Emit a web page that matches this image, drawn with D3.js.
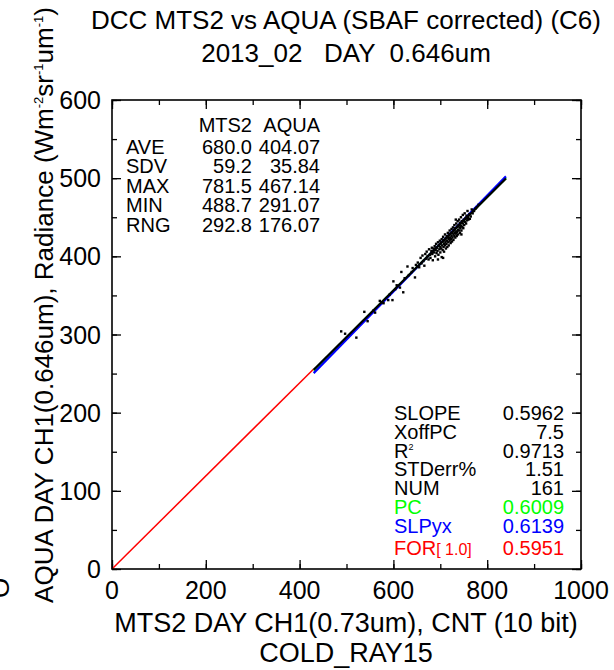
<!DOCTYPE html>
<html>
<head>
<meta charset="utf-8">
<script src="https://cdn.jsdelivr.net/npm/d3@7/dist/d3.min.js"></script>
<style>
  body { margin: 0; background: #fff; }
  svg text { font-family: "Liberation Sans", Arial, Helvetica, sans-serif; fill: #000; }
</style>
</head>
<body>
<div id="chart"></div>
<script>
// axis ticks
var xTicks = [0, 200, 400, 600, 800, 1000];
var yTicks = [0, 100, 200, 300, 400, 500, 600];

// summary table (top left)
var statNames = ["AVE", "SDV", "MAX", "MIN", "RNG"];
var mts2Stats = ["680.0", "59.2", "781.5", "488.7", "292.8"];
var aquaStats = ["404.07", "35.84", "467.14", "291.07", "176.07"];

// regression table (bottom right)
var fitNames = ["SLOPE", "XoffPC", "R2", "STDerr%", "NUM", "PC", "SLPyx", "FOR"];
var fitValues = ["0.5962", "7.5", "0.9713", "1.51", "161", "0.6009", "0.6139", "0.5951"];
var fitColors = ["#000", "#000", "#000", "#000", "#000", "#00ff00", "#0000ff", "#ff0000"];

// fitted lines, passing through the means (680.0, 404.07)
var meanX = 680.0, meanY = 404.07;
var fitRange = [430, 840];
var fitLines = [
  {slope: 0.6009, color: "#00ff00"},
  {slope: 0.6139, color: "#0000ff"},
  {slope: 0.5962, color: "#000000"}
];
var forSlope = 0.5951;

// DCC points (MTS2 count, AQUA radiance)
var points = [
  [488.7, 304], [497, 301], [521, 296], [538, 329], [545, 317], [558, 331], [561, 328], [571, 343],
  [576, 341], [579, 340], [589, 344], [592, 351], [598, 344], [600, 368], [604, 358], [607, 363],
  [614, 360], [617, 380], [621, 354], [624, 372], [630, 387], [633, 376], [639, 380], [641, 385],
  [646, 373], [648, 389], [652, 392], [655, 386], [658, 398], [660, 391], [662, 401], [664, 394],
  [666, 388], [668, 403], [670, 397], [671, 406], [673, 400], [675, 396], [676, 409], [678, 402],
  [679, 398], [681, 407], [682, 411], [683, 403], [684, 395], [686, 410], [687, 405], [688, 413],
  [689, 400], [690, 408], [691, 416], [692, 404], [693, 411], [694, 407], [695, 418], [696, 402],
  [697, 414], [698, 409], [699, 420], [700, 412], [700, 405], [701, 417], [702, 410], [703, 422],
  [703, 399], [704, 414], [705, 408], [706, 419], [706, 425], [707, 412], [708, 416], [708, 406],
  [709, 421], [710, 414], [710, 428], [711, 418], [712, 410], [712, 423], [713, 416], [714, 426],
  [714, 420], [715, 412], [716, 424], [716, 430], [717, 418], [718, 422], [718, 414], [719, 427],
  [720, 420], [720, 433], [721, 424], [722, 417], [722, 429], [723, 422], [724, 435], [724, 426],
  [725, 419], [726, 430], [726, 424], [727, 437], [728, 428], [728, 421], [729, 433], [730, 426],
  [730, 440], [731, 430], [732, 424], [732, 436], [733, 429], [734, 442], [734, 432], [735, 426],
  [736, 438], [736, 431], [737, 445], [738, 434], [738, 428], [739, 440], [740, 433], [740, 447],
  [741, 437], [742, 430], [742, 443], [743, 436], [744, 450], [744, 439], [745, 433], [746, 445],
  [747, 438], [748, 453], [748, 442], [749, 436], [750, 447], [751, 440], [752, 455], [753, 444],
  [754, 449], [755, 442], [756, 452], [757, 446], [758, 458], [759, 449], [760, 447], [762, 454],
  [763, 448], [765, 451], [767, 460], [769, 455], [772, 458], [775, 461], [778, 463], [781.5, 466],
  [706, 398], [733, 447], [745, 428], [695, 396]
];

var width = 614, height = 670;
var margin = {top: 100, right: 33, bottom: 101, left: 112};
var w = width - margin.left - margin.right;   // 469
var h = height - margin.top - margin.bottom;  // 469

var svg = d3.select("#chart").append("svg")
    .attr("width", width)
    .attr("height", height);

var g = svg.append("g")
    .attr("transform", "translate(" + margin.left + "," + margin.top + ")");

var x = d3.scaleLinear().domain([0, 1000]).range([0, w]);
var y = d3.scaleLinear().domain([0, 600]).range([h, 0]);

// ticks, IDL style: inward on all four sides
function drawTicks(axis, tickSize) {
  return function (sel) {
    sel.call(axis.tickSize(tickSize).tickFormat(""));
    sel.select(".domain").remove();
    sel.selectAll("line").attr("stroke", "#000").attr("stroke-width", 1.3);
  };
}
var xMinor = d3.range(0, 1001, 100), yMinor = d3.range(0, 601, 50);
g.append("g").attr("transform", "translate(0," + h + ")").call(drawTicks(d3.axisTop(x).tickValues(xMinor), 5));
g.append("g").attr("transform", "translate(0," + h + ")").call(drawTicks(d3.axisTop(x).tickValues(xTicks), 9));
g.append("g").call(drawTicks(d3.axisBottom(x).tickValues(xMinor), 5));
g.append("g").call(drawTicks(d3.axisBottom(x).tickValues(xTicks), 9));
g.append("g").call(drawTicks(d3.axisRight(y).tickValues(yMinor), 5));
g.append("g").call(drawTicks(d3.axisRight(y).tickValues(yTicks), 9));
g.append("g").attr("transform", "translate(" + w + ",0)").call(drawTicks(d3.axisLeft(y).tickValues(yMinor), 5));
g.append("g").attr("transform", "translate(" + w + ",0)").call(drawTicks(d3.axisLeft(y).tickValues(yTicks), 9));

// tick labels
g.selectAll(".xlab").data(xTicks).enter().append("text")
    .attr("class", "xlab")
    .attr("x", function (d) { return x(d); })
    .attr("y", h + 30)
    .attr("text-anchor", "middle")
    .style("font-size", "25px")
    .text(function (d) { return d; });

g.selectAll(".ylab").data(yTicks).enter().append("text")
    .attr("class", "ylab")
    .attr("x", -11)
    .attr("y", function (d) { return y(d) + 9; })
    .attr("text-anchor", "end")
    .style("font-size", "25px")
    .text(function (d) { return d; });

// FOR line through origin
g.append("line")
    .attr("x1", x(0)).attr("y1", y(0))
    .attr("x2", x(fitRange[0])).attr("y2", y(forSlope * fitRange[0]))
    .attr("stroke", "#ff0000").attr("stroke-width", 1.5);

// regression lines
fitLines.forEach(function (l) {
  var b = meanY - l.slope * meanX;
  g.append("line")
      .attr("x1", x(fitRange[0])).attr("y1", y(l.slope * fitRange[0] + b))
      .attr("x2", x(fitRange[1])).attr("y2", y(l.slope * fitRange[1] + b))
      .attr("stroke", l.color).attr("stroke-width", 2.2);
});

// points
g.selectAll(".pt").data(points).enter().append("rect")
    .attr("class", "pt")
    .attr("x", function (d) { return x(d[0]) - 1.2; })
    .attr("y", function (d) { return y(d[1]) - 1.2; })
    .attr("width", 2.4).attr("height", 2.4)
    .attr("fill", "#000");

// frame
g.append("rect")
    .attr("width", w).attr("height", h)
    .attr("fill", "none").attr("stroke", "#000").attr("stroke-width", 1.6);

// summary table
var tfs = "20px";
g.append("text").attr("x", 140).attr("y", 32).attr("text-anchor", "end").style("font-size", tfs).text("MTS2");
g.append("text").attr("x", 208).attr("y", 32).attr("text-anchor", "end").style("font-size", tfs).text("AQUA");
statNames.forEach(function (s, i) {
  var yy = 53.5 + i * 19.5;
  g.append("text").attr("x", 14).attr("y", yy).style("font-size", tfs).text(s);
  g.append("text").attr("x", 140).attr("y", yy).attr("text-anchor", "end").style("font-size", tfs).text(mts2Stats[i]);
  g.append("text").attr("x", 208).attr("y", yy).attr("text-anchor", "end").style("font-size", tfs).text(aquaStats[i]);
});

// regression table
fitNames.forEach(function (s, i) {
  var yy = (s === "FOR") ? 455 : 320 + i * 18.8;
  var t = g.append("text").attr("x", 282).attr("y", yy).style("font-size", tfs).style("fill", fitColors[i]);
  if (s === "R2") {
    t.text("R");
    t.append("tspan").attr("dy", -8).style("font-size", "9px").text("2");
  } else if (s === "FOR") {
    t.text("FOR");
    t.append("tspan").attr("xml:space", "preserve").style("font-size", "16px").text("[ 1.0]");
  } else {
    t.text(s);
  }
  g.append("text").attr("x", 452).attr("y", yy).attr("text-anchor", "end")
      .style("font-size", tfs).style("fill", fitColors[i]).text(fitValues[i]);
});

// titles
svg.append("text").attr("x", 346).attr("y", 29).attr("text-anchor", "middle")
    .style("font-size", "26px").text("DCC MTS2 vs AQUA (SBAF corrected) (C6)");
svg.append("text").attr("x", 346).attr("y", 62).attr("text-anchor", "middle")
    .style("font-size", "26px").attr("xml:space", "preserve").text("2013_02   DAY  0.646um");

svg.append("text").attr("x", 346).attr("y", 632).attr("text-anchor", "middle")
    .style("font-size", "27px").text("MTS2 DAY CH1(0.73um), CNT (10 bit)");
svg.append("text").attr("x", 346).attr("y", 662).attr("text-anchor", "middle")
    .style("font-size", "27px").text("COLD_RAY15");

var yt = svg.append("text")
    .attr("transform", "translate(53,305) rotate(-90)")
    .attr("text-anchor", "middle")
    .style("font-size", "26px");
yt.append("tspan").text("AQUA DAY CH1(0.646um), Radiance (Wm");
yt.append("tspan").attr("dy", -10).style("font-size", "13px").text("-2");
yt.append("tspan").attr("dy", 10).text("sr");
yt.append("tspan").attr("dy", -10).style("font-size", "13px").text("-1");
yt.append("tspan").attr("dy", 10).text("um");
yt.append("tspan").attr("dy", -10).style("font-size", "13px").text("-1");
yt.append("tspan").attr("dy", 10).text(")");

// clipped label at the far left edge
svg.append("text")
    .attr("transform", "translate(9,588) rotate(-90)")
    .attr("text-anchor", "middle")
    .style("font-size", "26px").text("O");
</script>
</body>
</html>
